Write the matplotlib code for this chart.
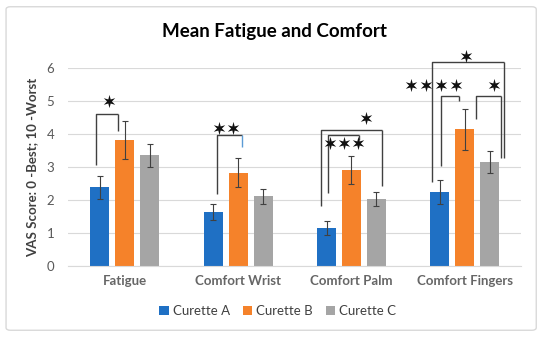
import numpy as np
import matplotlib
matplotlib.use('Agg')
import matplotlib.pyplot as plt
from matplotlib.patches import FancyBboxPatch
from matplotlib.path import Path

plt.rcParams['font.family'] = ['Lato', 'DejaVu Sans']

categories = ['Fatigue', 'Comfort Wrist', 'Comfort Palm', 'Comfort Fingers']
series = ['Curette A', 'Curette B', 'Curette C']
a_mean = [2.38, 1.63, 1.15, 2.24]
a_err = [0.35, 0.23, 0.21, 0.36]
b_mean = [3.82, 2.83, 2.91, 4.15]
b_err = [0.57, 0.43, 0.42, 0.62]
c_mean = [3.36, 2.11, 2.03, 3.16]
c_err = [0.35, 0.23, 0.21, 0.33]
colors = ['#1f70c4', '#f5822a', '#a5a5a5']

# significance brackets: category, left x, right x, left bottom, top, right bottom
brackets = [
    (0, -0.256, -0.059, 3.05, 4.60, 4.10),
    (1, -0.190, 0.036, 2.17, 3.96, 3.60),
    (2, -0.270, 0.270, 1.81, 4.14, 2.42),
    (2, -0.210, 0.063, 2.20, 3.97, 3.82),
    (3, -0.288, 0.350, 2.54, 6.18, 3.27),
    (3, -0.210, -0.050, 3.03, 5.15, 5.00),
    (3, 0.100, 0.320, 4.46, 5.17, 3.27),
]
# stars: category, x offset, y
stars = [
    (0, -0.14, 5.00),
    (1, -0.167, 4.18), (1, -0.049, 4.18),
    (2, 0.13, 4.49),
    (2, -0.19, 3.72), (2, -0.07, 3.72), (2, 0.06, 3.72),
    (3, 0.01, 6.37),
    (3, -0.47, 5.50), (3, -0.34, 5.50), (3, -0.21, 5.50), (3, -0.08, 5.50),
    (3, 0.26, 5.50),
]

fig = plt.figure(figsize=(5.5, 3.37), dpi=100)
ax = fig.add_axes([0.124, 0.212, 0.824, 0.585])

x = np.arange(len(categories))
w = 0.168
offs = [-0.22, 0.0, 0.22]
for means, errs, col, off, name in zip([a_mean, b_mean, c_mean], [a_err, b_err, c_err],
                                       colors, offs, series):
    ax.bar(x + off, means, w, color=col, label=name, zorder=2)
    ax.errorbar(x + off, means, yerr=errs, fmt='none', ecolor='#404040',
                elinewidth=0.8, capsize=2.5, capthick=0.8, zorder=3)

for cat, xl, xr, yl, yt, yr in brackets:
    col = '#404040'
    ax.plot([cat + xl, cat + xl, cat + xr], [yl, yt, yt], color=col, lw=1.0,
            clip_on=False, zorder=4, solid_capstyle='butt')
    rc = '#5b9bd5' if (cat == 1) else col
    ax.plot([cat + xr, cat + xr], [yt, yr], color=rc, lw=1.0,
            clip_on=False, zorder=4, solid_capstyle='butt')

star_path = Path.unit_regular_star(6, innerCircle=0.36)
sx = [c + o for c, o, _ in stars]
sy = [yy for _, _, yy in stars]
ax.plot(sx, sy, linestyle='none', marker=star_path, markersize=9.5,
        color='#111111', markeredgewidth=0, clip_on=False, zorder=5)

ax.set_xlim(-0.5, 3.5)
ax.set_ylim(0, 6)
ax.set_yticks(range(0, 7))
ax.set_xticks(x)
ax.set_xticklabels(categories, fontsize=9.5, color='#666666', fontweight='bold')
ax.tick_params(axis='y', labelsize=9.5, labelcolor='#595959', length=0, pad=10)
ax.tick_params(axis='x', length=0, pad=7)
ax.grid(axis='y', color='#d9d9d9', lw=0.8, zorder=0)
ax.set_axisbelow(True)
for s in ['top', 'right', 'left']:
    ax.spines[s].set_visible(False)
ax.spines['bottom'].set_color('#d9d9d9')

ax.set_ylabel('VAS Score: 0 -Best; 10 -Worst', fontsize=9.5, fontweight='bold',
              color='#404040', labelpad=6)
fig.text(0.5, 0.906, 'Mean Fatigue and Comfort', ha='center', va='center',
         fontsize=13.5, fontweight='bold', color='black')

ax.legend(loc='center', bbox_to_anchor=(0.505, 0.076), bbox_transform=fig.transFigure,
          ncol=3, frameon=False, fontsize=9.5, handlelength=0.7, handleheight=0.7,
          columnspacing=1.0, handletextpad=0.3, labelcolor='#404040')

border = FancyBboxPatch((0.011, 0.02), 0.964, 0.96, boxstyle='round,pad=0,rounding_size=0.008',
                        transform=fig.transFigure, fill=False, edgecolor='#d9d9d9', lw=1.0)
fig.patches.append(border)

fig.savefig('out.png', dpi=100)
